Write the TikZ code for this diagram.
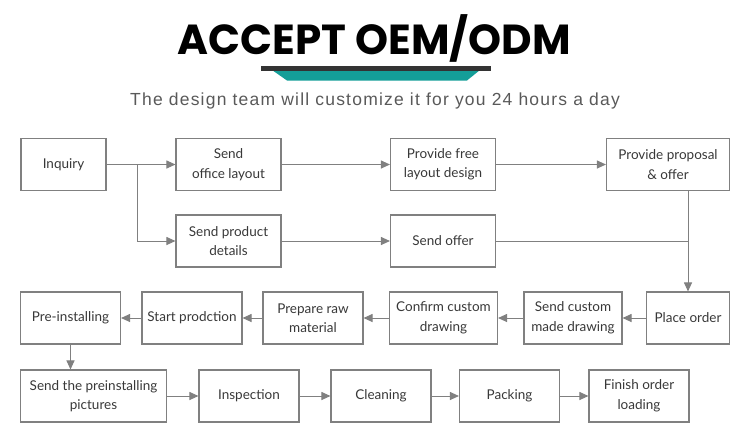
\documentclass[tikz,border=0pt]{standalone}
\usepackage{fontspec}
\setmainfont{Lato}
\newfontfamily\titlefont{Poppins}
\newfontfamily\subfont[LetterSpace=7]{Liberation Sans}
\usetikzlibrary{arrows.meta}

\definecolor{linegray}{HTML}{808080}
\definecolor{textgray}{HTML}{383838}
\definecolor{teal}{HTML}{149E98}

\begin{document}
\begin{tikzpicture}[x=1pt,y=-1pt,
  box/.style={draw=linegray,line width=1.1pt,text=textgray,align=center,
    minimum height=52pt,inner sep=2pt,font=\fontsize{13.5}{19.5}\selectfont},
  flow/.style={draw=linegray,line width=1pt,-{Triangle[length=9pt,width=8pt]}},
  merge/.style={draw=linegray,line width=1pt}]
\useasboundingbox (0,0) rectangle (750,440);

% title
\node (title) at (374.5,38) {\titlefont\bfseries\fontsize{42}{46}\selectfont ACCEPT OEM/ODM};
\fill[teal] (272,70) -- (480,70) -- (467,80.5) -- (287,80.5) -- cycle;
\fill[black!80] (261,66) rectangle (491,70.5);
\node[text=black!65] (sub) at (375,101) {\subfont\fontsize{17.5}{20}\selectfont The design team will customize it for you 24 hours a day};

% first two rows
\node[box,minimum width=85pt] (inquiry) at (63.5,164.5) {Inquiry};
\node[box,minimum width=105pt] (office) at (228.5,164.5) {Send\\office layout};
\node[box,minimum width=105pt] (free) at (443,164.5) {Provide free\\layout design};
\node[box,minimum width=123pt] (proposal) at (668,164.5) {Provide proposal\\\& offer};
\node[box,minimum width=105pt] (product) at (228.5,241) {Send product\\details};
\node[box,minimum width=105pt] (offer) at (443,241) {Send offer};

% third row, right to left
\node[box,minimum width=83pt] (order) at (688,318) {Place order};
\node[box,minimum width=98pt] (custom) at (573,318) {Send custom\\made drawing};
\node[box,minimum width=108pt] (confirm) at (443.5,318) {Confirm custom\\drawing};
\node[box,minimum width=100pt] (raw) at (313,318) {Prepare raw\\material};
\node[box,minimum width=100pt] (start) at (192,318) {Start prodction};
\node[box,minimum width=100pt] (pre) at (70.5,318) {Pre-installing};

% last row
\node[box,minimum width=146pt] (pictures) at (93.5,396) {Send the preinstalling\\pictures};
\node[box,minimum width=100pt] (inspection) at (249,396) {Inspection};
\node[box,minimum width=100pt] (cleaning) at (381,396) {Cleaning};
\node[box,minimum width=100pt] (packing) at (509.5,396) {Packing};
\node[box,minimum width=100pt] (finish) at (639,396) {Finish order\\loading};

\coordinate (split) at (137,164.5);

\draw[flow] (inquiry) -- (office);
\draw[flow] (split) |- (product.west);
\draw[flow] (office) -- (free);
\draw[flow] (free) -- (proposal);
\draw[flow] (product) -- (offer);
\draw[flow] (proposal.south -| order.north) -- (order.north);
\draw[merge] (offer.east) -- (offer.east -| order.north);

\draw[flow] (order) -- (custom);
\draw[flow] (custom) -- (confirm);
\draw[flow] (confirm) -- (raw);
\draw[flow] (raw) -- (start);
\draw[flow] (start) -- (pre);
\draw[flow] (pre.south) -- (pre.south |- pictures.north);

\draw[flow] (pictures) -- (inspection);
\draw[flow] (inspection) -- (cleaning);
\draw[flow] (cleaning) -- (packing);
\draw[flow] (packing) -- (finish);
\end{tikzpicture}
\end{document}
